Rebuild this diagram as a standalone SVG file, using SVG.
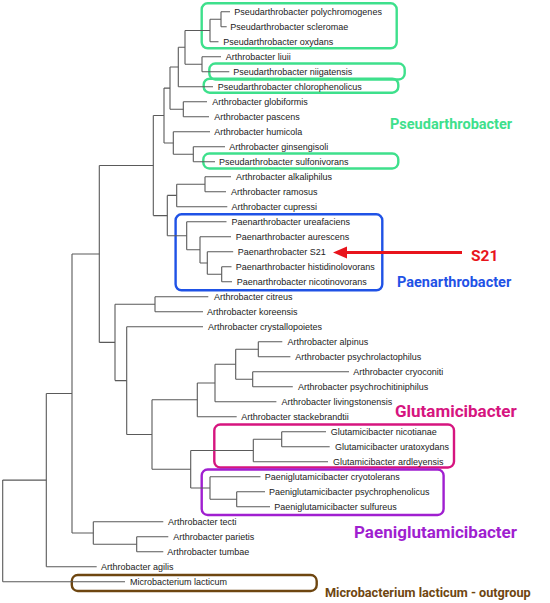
<svg xmlns="http://www.w3.org/2000/svg" width="550" height="603" viewBox="0 0 550 603">
<style>
.tr{fill:none;stroke:#5a5a5a;stroke-width:1.1}
.lf text{font-family:"Liberation Sans",Arial,sans-serif;font-size:9px;fill:#222}
.bx{fill:none;stroke-width:2.4}
.g{stroke:#3ee08c}.b{stroke:#1f52e6}.m{stroke:#d6157f}.p{stroke:#a01fd0}.br{stroke:#6e4610}
.lab{font-family:Roboto,"Liberation Sans",sans-serif;font-weight:700;font-size:17px}
</style>
<rect width="550" height="603" fill="#fff"/>
<g id="boxes">
<rect class="bx g" x="201.7" y="3.3" width="195" height="45" rx="6"/>
<rect class="bx g" x="209.3" y="63.5" width="195.4" height="16" rx="6"/>
<rect class="bx g" x="203.7" y="78.7" width="194.6" height="14" rx="6"/>
<rect class="bx g" x="203.3" y="153.5" width="195" height="15" rx="6"/>
<rect class="bx b" x="175.6" y="214.3" width="206.7" height="76" rx="6"/>
<rect class="bx m" x="214.3" y="424.5" width="239.7" height="43" rx="6"/>
<rect class="bx p" x="201.7" y="469.5" width="241.9" height="45.5" rx="6"/>
<rect class="bx br" x="71.8" y="575" width="244.9" height="16" rx="6"/>
</g>
<g id="connectors" class="tr">
<path d="M221 11.7V26.7M210 19.2V41.7M202 56.7V71.7M185 30.5V64.2M178.3 47.3V86.7M183.3 101.7V116.7M170 67V109.2M193.3 146.7V161.7M173.3 131.7V154.2M164 88.1V143M205 176.7V191.7M176.7 184.2V206.7M221.7 266.7V281.7M207.3 251.7V274.2M200 236.7V263M186.7 221.7V249.8M167.3 195.4V235.8M153.3 115.5V215.6M155 296.7V311.7M258.3 341.7V356.7M252.7 371.7V386.7M235.7 349.2V379.2M215 364.2V401.7M197.3 383V416.7M281.7 431.7V446.7M253.3 439.2V461.7M236.7 491.7V506.7M210 476.7V499.2M190.7 450.5V488M152 399.8V469.2M126.7 326.7V434.5M115 304.2V380.6M99.3 165.5V342.4M136.7 536.7V551.7M93.3 521.7V544.2M72 254V533M46.3 393.5V566.7M2.7 480.1V581.7"/>
<path d="M210 19.2H221M185 30.5H210M185 64.2H202M178.3 47.3H185M170 67H178.3M170 109.2H183.3M164 88.1H170M173.3 154.2H193.3M164 143H173.3M153.3 115.5H164M176.7 184.2H205M167.3 195.4H176.7M207.3 274.2H221.7M200 263H207.3M186.7 249.8H200M167.3 235.8H186.7M153.3 215.6H167.3M99.3 165.5H153.3M115 304.2H155M235.7 349.2H258.3M235.7 379.2H252.7M215 364.2H235.7M197.3 383H215M152 399.8H197.3M253.3 439.2H281.7M190.7 450.5H253.3M210 499.2H236.7M190.7 488H210M152 469.2H190.7M126.7 434.5H152M115 380.6H126.7M99.3 342.4H115M72 254H99.3M93.3 544.2H136.7M72 533H93.3M46.3 393.5H72M2.7 480.1H46.3"/>
<path d="M221 11.7H230M221 26.7H226.7M210 41.7H218.5M202 56.7H221M202 71.7H229.3M178.3 86.7H213M183.3 101.7H207M183.3 116.7H209M173.3 131.7H210M193.3 146.7H225M193.3 161.7H215M205 176.7H231M205 191.7H226M176.7 206.7H227.3M186.7 221.7H226.5M200 236.7H231M207.3 251.7H233.2M221.7 266.7H231.5M221.7 281.7H232M155 296.7H208.3M155 311.7H203M126.7 326.7H203M258.3 341.7H282.3M258.3 356.7H290.4M252.7 371.7H349M252.7 386.7H292.8M215 401.7H276.4M197.3 416.7H236.7M281.7 431.7H326M281.7 446.7H329.7M253.3 461.7H328M210 476.7H260.5M236.7 491.7H265M236.7 506.7H270M93.3 521.7H163.3M136.7 536.7H168.3M136.7 551.7H163.3M46.3 566.7H96.7M2.7 581.7H125"/>
</g>
<g class="lf">
<g id="n0"><text x="234.3" y="15">Pseudarthrobacter polychromogenes</text></g>
<g id="n1"><text x="230.3" y="30">Pseudarthrobacter scleromae</text></g>
<g id="n2"><text x="223.3" y="45">Pseudarthrobacter oxydans</text></g>
<g id="n3"><text x="225.7" y="60">Arthrobacter liuii</text></g>
<g id="n4"><text x="233.3" y="75">Pseudarthrobacter niigatensis</text></g>
<g id="n5"><text x="217.7" y="90">Pseudarthrobacter chlorophenolicus</text></g>
<g id="n6"><text x="212.3" y="105">Arthrobacter globiformis</text></g>
<g id="n7"><text x="214.3" y="120">Arthrobacter pascens</text></g>
<g id="n8"><text x="214.3" y="135">Arthrobacter humicola</text></g>
<g id="n9"><text x="229.3" y="150">Arthrobacter ginsengisoli</text></g>
<g id="n10"><text x="219" y="165">Pseudarthrobacter sulfonivorans</text></g>
<g id="n11"><text x="236" y="180">Arthrobacter alkaliphilus</text></g>
<g id="n12"><text x="231" y="195">Arthrobacter ramosus</text></g>
<g id="n13"><text x="231.5" y="210">Arthrobacter cupressi</text></g>
<g id="n14"><text x="231.5" y="225">Paenarthrobacter ureafaciens</text></g>
<g id="n15"><text x="235.7" y="240">Paenarthrobacter aurescens</text></g>
<g id="n16"><text x="237.8" y="255">Paenarthrobacter S21</text></g>
<g id="n17"><text x="235.7" y="270">Paenarthrobacter histidinolovorans</text></g>
<g id="n18"><text x="236.7" y="285">Paenarthrobacter nicotinovorans</text></g>
<g id="n19"><text x="213.9" y="300">Arthrobacter citreus</text></g>
<g id="n20"><text x="206.9" y="315">Arthrobacter koreensis</text></g>
<g id="n21"><text x="208" y="330">Arthrobacter crystallopoietes</text></g>
<g id="n22"><text x="287.6" y="345">Arthrobacter alpinus</text></g>
<g id="n23"><text x="295.3" y="360">Arthrobacter psychrolactophilus</text></g>
<g id="n24"><text x="353.2" y="375">Arthrobacter cryoconiti</text></g>
<g id="n25"><text x="298.1" y="390">Arthrobacter psychrochitiniphilus</text></g>
<g id="n26"><text x="281.6" y="405">Arthrobacter livingstonensis</text></g>
<g id="n27"><text x="241.3" y="420">Arthrobacter stackebrandtii</text></g>
<g id="n28"><text x="330.7" y="435">Glutamicibacter nicotianae</text></g>
<g id="n29"><text x="335" y="450">Glutamicibacter uratoxydans</text></g>
<g id="n30"><text x="333" y="465">Glutamicibacter ardleyensis</text></g>
<g id="n31"><text x="264.8" y="480">Paeniglutamicibacter cryotolerans</text></g>
<g id="n32"><text x="269" y="495">Paeniglutamicibacter psychrophenolicus</text></g>
<g id="n33"><text x="274.2" y="510">Paeniglutamicibacter sulfureus</text></g>
<g id="n34"><text x="168" y="525">Arthrobacter tecti</text></g>
<g id="n35"><text x="173.3" y="540">Arthrobacter parietis</text></g>
<g id="n36"><text x="167.3" y="555">Arthrobacter tumbae</text></g>
<g id="n37"><text x="101" y="570">Arthrobacter agilis</text></g>
<g id="n38"><text x="130" y="585">Microbacterium lacticum</text></g>
</g>
<g id="arrow">
<line x1="462" y1="252.5" x2="345" y2="252.5" stroke="#e8141c" stroke-width="3"/>
<polygon points="333,252.5 347,246.6 347,258.4" fill="#e8141c"/>
</g>
<g id="labels" class="lab">
<text x="390" y="129" fill="#3ee08c" style="font-size:14.5px">Pseudarthrobacter</text>
<text x="471" y="260.5" fill="#e8141c" style="font-size:15.5px">S21</text>
<text x="397" y="286.5" fill="#1f52e6" style="font-size:14.5px">Paenarthrobacter</text>
<text x="395" y="417" fill="#d6157f">Glutamicibacter</text>
<text x="354" y="538" fill="#a01fd0">Paeniglutamicibacter</text>
<text x="325" y="596.5" fill="#6e4610" style="font-size:12.7px">Microbacterium lacticum - outgroup</text>
</g>
</svg>
